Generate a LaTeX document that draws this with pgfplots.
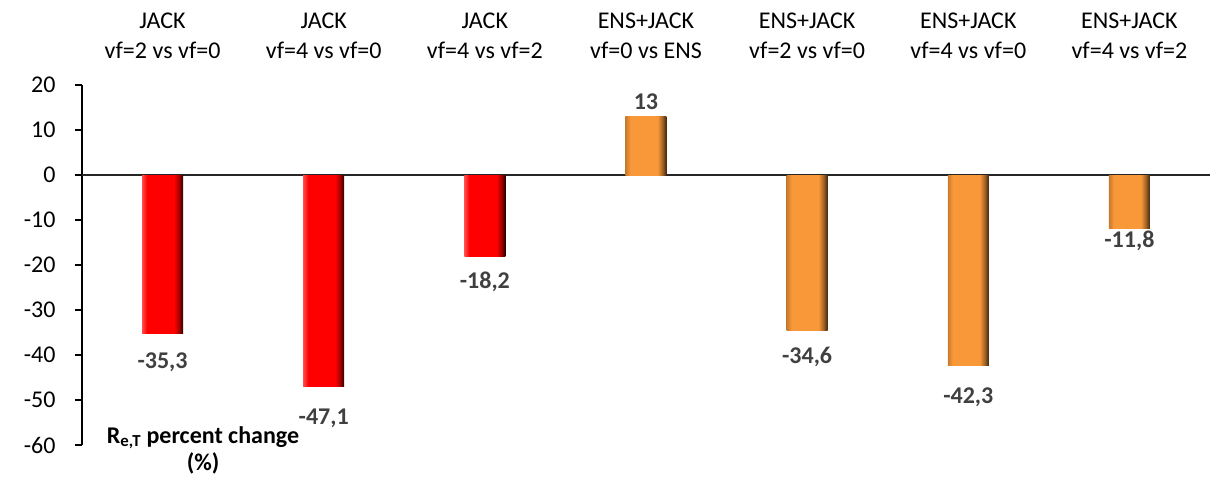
\documentclass[border=0pt]{standalone}
\usepackage{fontspec}
\setmainfont{Carlito}
\usepackage{pgfplots}
\pgfplotsset{compat=1.18}

\definecolor{barred}{RGB}{255,0,0}
\definecolor{barorange}{RGB}{249,152,56}
\definecolor{labelgray}{RGB}{64,64,64}

% bar bodies: lighter left rim, flat face, dark right rim
% (the bar's bounding box spans 25bp..75bp of the shading)
\pgfdeclarehorizontalshading{redbevel}{100bp}{%
  color(0bp)=(barred!70!white); color(25bp)=(barred!70!white);
  color(31bp)=(barred); color(64bp)=(barred);
  color(70bp)=(barred!65!black); color(75bp)=(barred!15!black);
  color(100bp)=(barred!15!black)}
\pgfdeclarehorizontalshading{orangebevel}{100bp}{%
  color(0bp)=(barorange!80!black); color(25bp)=(barorange!80!black);
  color(31bp)=(barorange); color(64bp)=(barorange);
  color(70bp)=(barorange!65!black); color(75bp)=(barorange!25!black);
  color(100bp)=(barorange!25!black)}

\pgfplotsset{
  jackbar/.style={draw=none, shading=redbevel},
  ensbar/.style={draw=none, shading=orangebevel},
  labelshift/.style={every node near coord/.append style={yshift=#1}},
}

\begin{document}
\begin{tikzpicture}
% page frame around the axis box (axis box starts at the origin)
\useasboundingbox (-82bp,-42bp) rectangle (1136bp,445bp);
\begin{axis}[
  scale only axis,
  width=1128bp, height=360bp,
  xmin=0.5, xmax=7.5,
  ymin=-60, ymax=20,
  ytick={-60,-50,...,20},
  axis y line*=left,
  axis x line*=top,
  x axis line style={draw=none},
  y axis line style={black, line width=1.3bp},
  xtick={1,...,7},
  xticklabels={
    {JACK\\vf=2 vs vf=0},
    {JACK\\vf=4 vs vf=0},
    {JACK\\vf=4 vs vf=2},
    {ENS+JACK\\vf=0 vs ENS},
    {ENS+JACK\\vf=2 vs vf=0},
    {ENS+JACK\\vf=4 vs vf=0},
    {ENS+JACK\\vf=4 vs vf=2}},
  xticklabel style={align=center, font=\fontsize{24bp}{30bp}\selectfont, yshift=16bp},
  xtick style={draw=none},
  tick align=outside,
  major tick length=7bp,
  ytick style={black, line width=1.3bp},
  yticklabel style={font=\fontsize{24bp}{29bp}\selectfont, xshift=-16bp},
  /pgf/number format/assume math mode=true,
  ybar, bar width=41bp, bar shift=0pt,
  nodes near coords,
  nodes near coords style={
    font=\fontsize{24bp}{29bp}\selectfont\bfseries,
    text=labelgray, anchor=center,
    /pgf/number format/use comma,
    /pgf/number format/fixed,
    /pgf/number format/precision=1,
    /pgf/number format/assume math mode=true},
  clip=false,
]
\draw[black!85, line width=1.3bp] (axis cs:0.5,0) -- (axis cs:7.5,0);
% JACK
\addplot[jackbar, labelshift=-28bp] coordinates {(1,-35.3)};
\addplot[jackbar, labelshift=-31bp] coordinates {(2,-47.1)};
\addplot[jackbar, labelshift=-25bp] coordinates {(3,-18.2)};
% ENS+JACK
\addplot[ensbar, labelshift=15bp]  coordinates {(4,13)};
\addplot[ensbar, labelshift=-26bp] coordinates {(5,-34.6)};
\addplot[ensbar, labelshift=-32bp] coordinates {(6,-42.3)};
\addplot[ensbar, labelshift=-13bp] coordinates {(7,-11.8)};
\node[font=\fontsize{24bp}{27bp}\selectfont\bfseries, align=center]
  at ([shift={(121bp,-5bp)}]rel axis cs:0,0) {R\textsubscript{e,T} percent change\\(\%)};
\end{axis}
\end{tikzpicture}
\end{document}
